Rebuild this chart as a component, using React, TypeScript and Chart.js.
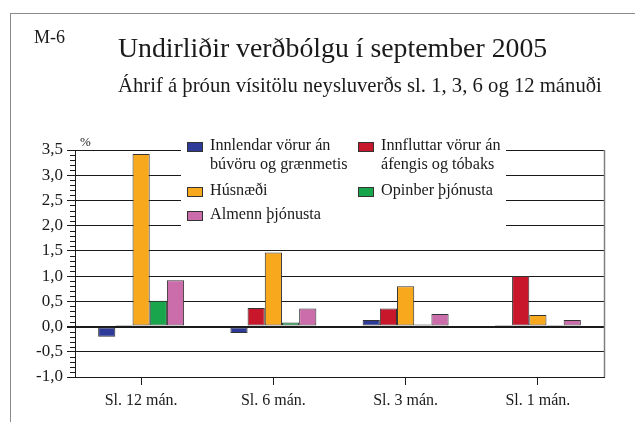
import React, { useEffect, useRef } from "react";
import { Chart, registerables } from "chart.js";

Chart.register(...registerables);

const categories = ["Sl. 12 mán.", "Sl. 6 mán.", "Sl. 3 mán.", "Sl. 1 mán."];
const innlendar = [-0.2, -0.13, 0.13, 0.03];
const innfluttar = [0.01, 0.37, 0.36, 1.0];
const husnaedi = [3.42, 1.47, 0.8, 0.23];
const opinber = [0.51, 0.08, 0.04, 0.01];
const almenn = [0.92, 0.36, 0.25, 0.13];

const seriesNames = [
  "Innlendar vörur án búvöru og grænmetis",
  "Innfluttar vörur án áfengis og tóbaks",
  "Húsnæði",
  "Opinber þjónusta",
  "Almenn þjónusta",
];
const seriesColors = ["#2E3A97", "#C8172B", "#F7A81D", "#19A54B", "#CB6CAB"];

const yMin = -1;
const yMax = 3.5;
const yStep = 0.5;
const yMinorStep = 0.1;

const FONT = "'Liberation Serif', 'Times New Roman', serif";
const INK = "#1a1a1a";

const axisExtras = {
  id: "axisExtras",
  afterDraw(chart: any) {
    const { ctx, chartArea, scales } = chart;
    const y = scales.y;
    ctx.save();
    ctx.strokeStyle = INK;
    ctx.lineWidth = 1;
    ctx.beginPath();
    const n = Math.round((yMax - yMin) / yMinorStep);
    for (let i = 0; i <= n; i++) {
      const v = yMin + i * yMinorStep;
      if (Math.abs(v / yStep - Math.round(v / yStep)) < 1e-6) continue;
      const py = Math.round(y.getPixelForValue(v)) + 0.5;
      ctx.moveTo(chartArea.left - 5, py);
      ctx.lineTo(chartArea.left, py);
    }
    ctx.stroke();
    ctx.strokeStyle = "#808080";
    ctx.lineWidth = 1.5;
    ctx.beginPath();
    ctx.moveTo(chartArea.right + 0.5, chartArea.top);
    ctx.lineTo(chartArea.right + 0.5, chartArea.bottom);
    ctx.stroke();
    ctx.restore();
  },
};

function Swatch({ color, left, top }: { color: string; left: number; top: number }) {
  return (
    <div
      style={{
        position: "absolute",
        left,
        top,
        width: 14,
        height: 8,
        background: color,
        border: "1px solid #333",
      }}
    />
  );
}

function Txt({
  left,
  baseline,
  size,
  children,
}: {
  left: number;
  baseline: number;
  size: number;
  children: React.ReactNode;
}) {
  return (
    <div
      style={{
        position: "absolute",
        left,
        top: baseline - 0.8375 * size,
        fontFamily: FONT,
        fontSize: size,
        lineHeight: 1,
        color: INK,
        whiteSpace: "nowrap",
      }}
    >
      {children}
    </div>
  );
}

export default function App() {
  const canvasRef = useRef<HTMLCanvasElement | null>(null);

  useEffect(() => {
    const canvas = canvasRef.current;
    if (!canvas) return;
    const data = [innlendar, innfluttar, husnaedi, opinber, almenn];
    const chart = new Chart(canvas, {
      type: "bar",
      data: {
        labels: categories,
        datasets: data.map((d, i) => ({
          label: seriesNames[i],
          data: d,
          backgroundColor: seriesColors[i],
          borderColor: "#333",
          borderWidth: 1,
          borderSkipped: false,
          categoryPercentage: 0.65,
          barPercentage: 1.0,
        })),
      },
      options: {
        responsive: false,
        animation: false,
        devicePixelRatio: 1,
        layout: { padding: { top: 150, right: 31, left: 0, bottom: 0 } },
        plugins: { legend: { display: false }, tooltip: { enabled: false }, title: { display: false } },
        scales: {
          x: {
            grid: {
              display: true,
              drawOnChartArea: false,
              drawTicks: true,
              tickLength: 8,
              offset: false,
              color: INK,
            },
            border: { display: true, color: INK, width: 1 },
            ticks: { font: { family: FONT, size: 16 }, color: INK, padding: 6, maxRotation: 0 },
            afterFit: (s: any) => {
              s.height = 45;
            },
          },
          y: {
            min: yMin,
            max: yMax,
            ticks: {
              stepSize: yStep,
              font: { family: FONT, size: 17 },
              color: INK,
              padding: 4,
              callback: (v: any) => Number(v).toFixed(1).replace(".", ","),
            },
            grid: {
              color: INK,
              lineWidth: (c: any) => (c.tick && Math.abs(c.tick.value) < 1e-9 ? 2 : 1),
              tickLength: 8,
              drawTicks: true,
            },
            border: { display: true, color: INK, width: 1 },
            afterFit: (s: any) => {
              s.width = 75;
            },
          },
        },
      },
      plugins: [axisExtras],
    } as any);
    return () => chart.destroy();
  }, []);

  return (
    <div style={{ position: "absolute", left: 0, top: 0, width: 635, height: 422, overflow: "hidden", background: "#fff" }}>
      <div
        style={{
          position: "absolute",
          left: 10,
          top: 13,
          width: 625,
          height: 409,
          borderTop: "1.5px solid #8c8c8c",
          borderLeft: "1.5px solid #8c8c8c",
          boxSizing: "border-box",
        }}
      />
      <canvas ref={canvasRef} width={635} height={422} style={{ position: "absolute", left: 0, top: 0 }} />
      <Txt left={34} baseline={43} size={18}>M-6</Txt>
      <Txt left={118} baseline={57} size={27.8}>Undirliðir verðbólgu í september 2005</Txt>
      <Txt left={118} baseline={92.5} size={20.7}>Áhrif á þróun vísitölu neysluverðs sl. 1, 3, 6 og 12 mánuði</Txt>
      <Txt left={80} baseline={146} size={13}>%</Txt>
      <div style={{ position: "absolute", left: 181, top: 138, width: 325, height: 107, background: "#fff" }} />
      <Swatch color={seriesColors[0]} left={187} top={142} />
      <Txt left={210} baseline={150.5} size={16.2}>Innlendar vörur án</Txt>
      <Txt left={210} baseline={169.5} size={16.2}>búvöru og grænmetis</Txt>
      <Swatch color={seriesColors[1]} left={358} top={142} />
      <Txt left={381} baseline={150.5} size={16.2}>Innfluttar vörur án</Txt>
      <Txt left={381} baseline={169.5} size={16.2}>áfengis og tóbaks</Txt>
      <Swatch color={seriesColors[2]} left={187} top={187} />
      <Txt left={210} baseline={196} size={16.2}>Húsnæði</Txt>
      <Swatch color={seriesColors[3]} left={358} top={187} />
      <Txt left={381} baseline={196} size={16.2}>Opinber þjónusta</Txt>
      <Swatch color={seriesColors[4]} left={187} top={211} />
      <Txt left={210} baseline={220} size={16.2}>Almenn þjónusta</Txt>
    </div>
  );
}
